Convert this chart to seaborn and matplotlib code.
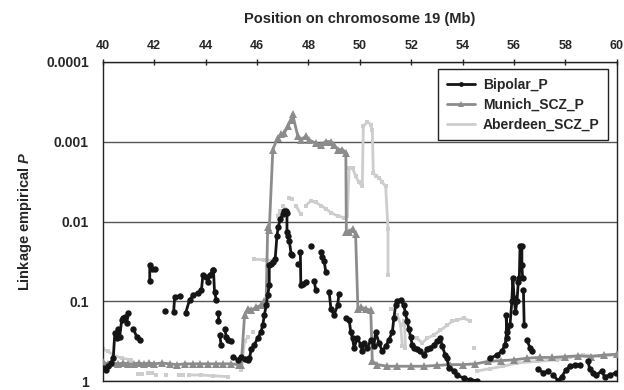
import numpy as np
import pandas as pd
import matplotlib
matplotlib.use("Agg")
import matplotlib.pyplot as plt
import seaborn as sns
from matplotlib.lines import Line2D
from matplotlib.ticker import NullLocator

nan = np.nan

# position (Mb) and -log10(P), nan = gap in the trace
bipolar_mb = [40.03, 40.12, 40.22, 40.31, 40.41, 40.47, 40.54, 40.61, 40.66, 40.74, 40.80, 40.86, 40.93, 41.00, nan,
              41.19, 41.32, 41.45, nan,
              41.83, 41.83, 41.90, 42.05, nan,
              42.41, nan,
              42.76, 42.80, 43.00, nan,
              43.23, 43.38, 43.52, 43.71, 43.84, 43.90, 44.03, 44.10, 44.16, 44.29, 44.31, 44.35, 44.42, nan,
              44.48, 44.48, nan,
              44.55, 44.61, nan,
              44.74, 44.81, 44.87, 45.00, nan,
              45.07, 45.26, 45.39, nan,
              45.54, 45.65, 45.71, 45.78, 45.90, 46.03, 46.16, 46.23, 46.29, 46.36, 46.42, 46.48, 46.48, 46.55,
              46.62, 46.71, 46.78, 46.83, 46.91, 47.00, 47.04, 47.13, 47.17, 47.17, 47.22, 47.26, 47.33, 47.35, nan,
              47.59, nan,
              47.69, 47.71, 47.78, 47.91, nan,
              48.10, nan,
              48.23, 48.29, nan,
              48.49, 48.55, 48.62, 48.68, nan,
              48.81, 48.88, 49.00, 49.14, 49.19, nan,
              49.46, 49.59, 49.65, 49.72, 49.78, 49.91, 50.04, 50.10, 50.17, 50.30, 50.43, 50.55, 50.62, 50.75,
              50.88, 51.01, 51.14, 51.27, 51.33, 51.40, 51.46, 51.59, 51.72, 51.78, 51.85, 51.91, 51.98, 52.04,
              52.10, 52.24, 52.36, 52.49, 52.62, 52.75, 52.88, 53.01, 53.14, 53.21, 53.33, 53.40, 53.46, 53.66,
              53.79, 54.05, 54.30, 54.56, nan,
              55.08, 55.34, 55.53, 55.66, 55.72, 55.70, 55.72, 55.85, 55.92, 55.96, 56.01, 56.06, 56.12, 56.17,
              56.21, 56.24, 56.31, 56.31, 56.34, nan,
              56.37, 56.40, nan,
              56.50, 56.63, 56.69, nan,
              56.95, 57.14, 57.34, nan,
              57.53, 57.72, 57.86, 58.02, 58.18, 58.37, 58.57, nan,
              58.89, 58.95, 59.08, 59.21, 59.41, 59.53, 59.73, 59.99]
bipolar_nlp = [0.17, 0.14, 0.19, 0.23, 0.29, 0.60, 0.54, 0.66, 0.56, 0.77, 0.79, 0.81, 0.73, 0.85, nan,
               0.66, 0.56, 0.52, nan,
               1.25, 1.45, 1.41, 1.40, nan,
               0.88, nan,
               0.87, 1.06, 1.07, nan,
               0.86, 1.02, 1.08, 1.11, 1.14, 1.33, 1.31, 1.24, 1.33, 1.39, 1.39, 1.12, 1.02, nan,
               0.85, 0.75, nan,
               0.58, 0.46, nan,
               0.66, 0.56, 0.52, 0.50, nan,
               0.31, 0.27, 0.31, nan,
               0.28, 0.27, 0.29, 0.40, 0.46, 0.54, 0.62, 0.71, 0.83, 0.95, 1.08, 1.20, 1.45, 1.47,
               1.49, 1.53, 1.82, 1.93, 2.03, 2.09, 2.13, 2.13, 2.11, 1.87, 1.82, 1.76, 1.60, 1.58, nan,
               1.47, nan,
               1.62, 1.20, 1.22, 1.24, nan,
               1.69, nan,
               1.26, 1.14, nan,
               1.62, 1.56, 1.50, 1.37, nan,
               1.12, 0.91, 0.83, 0.95, 1.09, nan,
               0.79, 0.77, 0.62, 0.54, 0.42, 0.54, 0.46, 0.38, 0.48, 0.42, 0.52, 0.44, 0.62, 0.48,
               0.38, 0.44, 0.52, 0.62, 0.79, 0.96, 1.00, 1.02, 0.95, 0.85, 0.75, 0.66, 0.56, 0.46,
               0.42, 0.40, 0.38, 0.33, 0.40, 0.42, 0.46, 0.50, 0.54, 0.44, 0.33, 0.29, 0.17, 0.13,
               0.08, 0.04, 0.02, 0.01, nan,
               0.29, 0.33, 0.38, 0.46, 0.62, 0.83, 0.54, 0.71, 1.00, 1.29, 1.04, 0.87, 1.00, 1.24,
               1.29, 1.70, 1.70, 1.45, 1.29, nan,
               1.14, 0.71, nan,
               0.52, 0.42, 0.38, nan,
               0.15, 0.11, 0.13, nan,
               0.08, 0.01, 0.06, 0.14, 0.19, 0.21, 0.21, nan,
               0.25, 0.15, 0.11, 0.08, 0.13, 0.06, 0.08, 0.11]

munich_mb = [40.0, 40.2, 40.4, 40.6, 40.8, 41.0, 41.2, 41.4, 41.6, 41.8, 42.0, 42.3, 42.6, 42.9, 43.2,
             43.5, 43.8, 44.1, 44.4, 44.7, 45.0, 45.3, 45.39, 45.52, 45.65, 45.78, 45.97, 46.16, 46.29,
             46.36, 46.42, 46.48, 46.62, 46.81, 46.94, 47.07, 47.20, 47.33, 47.39, 47.59, 47.71, 47.91,
             48.03, 48.29, 48.49, 48.68, 48.88, 49.00, 49.14, 49.33, 49.46, 49.48, 49.59, 49.72, 49.84,
             49.93, 50.04, 50.23, 50.43, 50.49, 50.69, 51.07, 51.46, 52.0, 52.5, 53.0, 53.5, 54.0, 54.5,
             55.0, 55.5, 56.0, 56.5, 57.0, 57.5, 58.0, 58.5, 59.0, 59.5, 60.0]
munich_nlp = [0.24, 0.22, 0.23, 0.22, 0.23, 0.22, 0.22, 0.23, 0.22, 0.23, 0.22, 0.23, 0.22, 0.21, 0.22,
              0.22, 0.22, 0.22, 0.22, 0.22, 0.22, 0.21, 0.21, 0.83, 0.91, 0.89, 0.93, 0.95, 1.00,
              1.02, 1.93, 1.89, 2.90, 3.05, 3.09, 3.11, 3.19, 3.27, 3.34, 3.07, 3.02, 3.07,
              3.02, 2.98, 2.96, 3.00, 3.00, 2.96, 2.90, 2.90, 2.86, 1.87, 1.87, 1.91, 1.84,
              0.91, 0.93, 0.91, 0.89, 0.25, 0.21, 0.19, 0.19, 0.19, 0.19, 0.20, 0.21, 0.21, 0.22,
              0.25, 0.26, 0.27, 0.29, 0.30, 0.30, 0.31, 0.32, 0.31, 0.33, 0.34]

aberdeen_mb = [40.03, 40.19, 40.41, 40.74, 41.12, nan, 41.38, 41.51, nan, 41.77, 41.90, nan, 42.09, nan,
               42.48, nan, 42.98, 43.14, nan, 43.37, 43.84, 44.30, 44.87, nan, 45.39, 45.52, 45.65, nan,
               45.84, nan, 45.90, 46.28, 46.68, nan, 46.81, 46.90, nan, 47.00, 47.09, nan, 47.26, 47.36, nan,
               47.52, 47.71, nan,
               47.91, 48.10, 48.29, 48.49, 48.68, 48.88, 49.14, 49.39, 49.52, 49.59, 49.72, 49.84, 49.97,
               50.10, 50.14, 50.30, 50.43, 50.49, 50.53, 50.62, 50.75, 50.88, 51.01, 51.10, 51.10, nan,
               51.20, nan, 51.46, 51.59, 51.66, nan, 51.74, 51.78, nan,
               52.24, 52.43, 52.62, 52.88, 53.14, 53.40, 53.59, 53.79, 54.04, 54.30, nan, 54.43, nan,
               54.56, 55.08, 55.58, 56.11, 56.88, 57.66, 58.18, 58.69, 59.34, 59.99]
aberdeen_nlp = [0.40, 0.38, 0.33, 0.29, 0.27, nan, 0.09, 0.09, nan, 0.10, 0.10, nan, 0.08, nan,
                0.08, nan, 0.08, 0.08, nan, 0.08, 0.08, 0.07, 0.06, nan, 0.14, 0.50, 0.56, nan,
                0.62, nan, 1.53, 1.52, 1.51, nan, 2.07, 2.13, nan, 2.20, 2.16, nan, 2.30, 2.28, nan,
                2.20, 2.09, nan,
                2.20, 2.26, 2.24, 2.20, 2.16, 2.11, 2.07, 2.05, 2.07, 2.67, 2.67, 2.57, 2.49,
                2.44, 3.19, 3.25, 3.21, 3.15, 2.61, 2.57, 2.55, 2.49, 2.44, 1.91, 1.33, nan,
                0.91, nan, 0.83, 0.71, 0.44, nan, 0.75, 0.42, nan,
                0.54, 0.48, 0.54, 0.58, 0.64, 0.70, 0.75, 0.77, 0.79, 0.76, nan, 0.42, nan,
                0.13, 0.16, 0.19, 0.23, 0.25, 0.27, 0.30, 0.33, 0.32, 0.33]

series_names = ["Bipolar_P", "Munich_SCZ_P", "Aberdeen_SCZ_P"]
series_colors = ["#151515", "#8c8c8c", "#cdcdcd"]
y_ticks = [1, 0.1, 0.01, 0.001, 0.0001]
y_tick_labels = ["1", "0.1", "0.01", "0.001", "0.0001"]


def to_frame(mb, nlp):
    df = pd.DataFrame({"Mb": mb, "nlp": nlp})
    df["seg"] = df["Mb"].isna().cumsum()
    df = df.dropna().copy()
    df["P"] = 10.0 ** -df["nlp"]
    return df


bipolar = to_frame(bipolar_mb, bipolar_nlp)
munich = to_frame(munich_mb, munich_nlp)
aberdeen = to_frame(aberdeen_mb, aberdeen_nlp)

sns.set_style("white")
plt.rcParams["font.family"] = ["Liberation Sans", "DejaVu Sans"]
plt.rcParams["font.weight"] = "bold"
plt.rcParams["mathtext.fontset"] = "custom"
plt.rcParams["mathtext.bfit"] = "Liberation Sans:bold:italic"

fig = plt.figure(figsize=(6.24, 3.9), dpi=100)
ax = fig.add_axes([0.1646, 0.022, 0.8237, 0.820])
ax.set_yscale("log")

# draw order: lightest underneath
sns.lineplot(data=aberdeen, x="Mb", y="P", units="seg", estimator=None, sort=False,
             color=series_colors[2], linewidth=2.0, marker="s", markersize=2.8,
             markeredgewidth=0, legend=False, ax=ax, zorder=2)
sns.lineplot(data=munich, x="Mb", y="P", units="seg", estimator=None, sort=False,
             color=series_colors[1], linewidth=2.0, marker="^", markersize=5.5,
             markeredgewidth=0, legend=False, ax=ax, zorder=3)
sns.lineplot(data=bipolar, x="Mb", y="P", units="seg", estimator=None, sort=False,
             color=series_colors[0], linewidth=2.0, marker="o", markersize=4.6,
             markeredgewidth=0, legend=False, ax=ax, zorder=4)

ax.set_xlim(40, 60)
ax.set_ylim(1, 0.0001)
ax.set_xticks(range(40, 61, 2))
ax.set_yticks(y_ticks)
ax.set_yticklabels(y_tick_labels)
ax.yaxis.set_minor_locator(NullLocator())
ax.xaxis.tick_top()
ax.xaxis.set_label_position("top")

ax.yaxis.grid(True, color="#555555", linewidth=1.0)
ax.xaxis.grid(False)
ax.set_axisbelow(True)

for s in ax.spines.values():
    s.set_visible(True)
    s.set_color("#222222")
    s.set_linewidth(1.0)

ax.tick_params(axis="x", direction="inout", length=4, width=1, pad=5, labelsize=9, color="#222222")
ax.tick_params(axis="y", direction="inout", length=4, width=1, pad=8, labelsize=10, color="#222222")

ax.set_xlabel("Position on chromosome 19 (Mb)", fontsize=10.5, fontweight="bold", labelpad=12)
ax.set_ylabel(r"Linkage empirical $\mathbfit{P}$", fontsize=10.5, fontweight="bold", labelpad=9)

handles = [
    Line2D([], [], color=series_colors[0], lw=2.0, marker="o", markersize=3.5, markeredgewidth=0),
    Line2D([], [], color=series_colors[1], lw=2.0, marker="^", markersize=4, markeredgewidth=0),
    Line2D([], [], color=series_colors[2], lw=2.0),
]
leg = ax.legend(handles, series_names, loc="upper right", bbox_to_anchor=(0.983, 0.976),
                borderaxespad=0, fancybox=False, framealpha=1, edgecolor="#222222",
                prop={"size": 10, "weight": "bold"}, handlelength=2.0, labelspacing=0.45,
                borderpad=0.6, handletextpad=0.6)
leg.get_frame().set_linewidth(1.0)
leg.set_zorder(10)

fig.savefig("out.png", dpi=100)
